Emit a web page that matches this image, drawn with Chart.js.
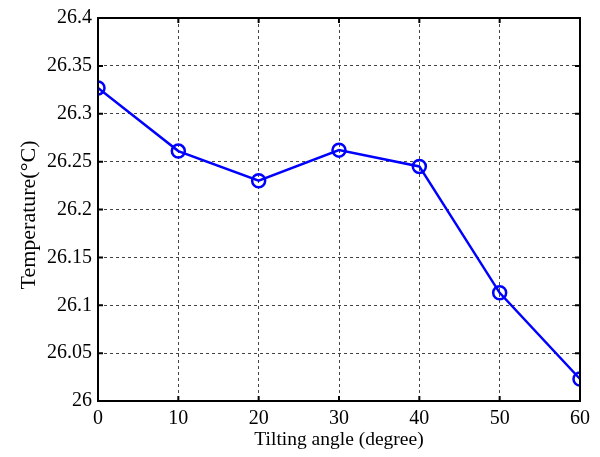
<!DOCTYPE html>
<html>
<head>
<meta charset="utf-8">
<script src="https://cdn.jsdelivr.net/npm/chart.js@4"></script>
<style>
  html, body { margin: 0; padding: 0; background: #fff; }
  #wrap { width: 600px; height: 457px; }
</style>
</head>
<body>
<div id="wrap"><canvas id="tempChart" width="600" height="457"></canvas></div>
<script>
// Tilting angle vs temperature
const angles = [0, 10, 20, 30, 40, 50, 60];
const temps = [26.327, 26.261, 26.230, 26.262, 26.245, 26.113, 26.023];
const xTicks = [0, 10, 20, 30, 40, 50, 60];
const yTicks = [26, 26.05, 26.1, 26.15, 26.2, 26.25, 26.3, 26.35, 26.4];

const fontFamily = '"Liberation Serif", "Times New Roman", serif';

// box round the plot area with inward tick marks, like the original
const boxPlugin = {
    id: 'box',
    afterDraw(chart) {
        const { ctx, chartArea: a, scales } = chart;
        ctx.save();
        ctx.strokeStyle = '#000';
        ctx.lineWidth = 2;
        ctx.setLineDash([]);
        ctx.beginPath();
        xTicks.forEach(v => {
            const px = scales.x.getPixelForValue(v);
            ctx.moveTo(px, a.bottom); ctx.lineTo(px, a.bottom - 5);
            ctx.moveTo(px, a.top); ctx.lineTo(px, a.top + 5);
        });
        yTicks.forEach(v => {
            const py = scales.y.getPixelForValue(v);
            ctx.moveTo(a.left, py); ctx.lineTo(a.left + 5, py);
            ctx.moveTo(a.right, py); ctx.lineTo(a.right - 5, py);
        });
        ctx.stroke();
        ctx.strokeRect(a.left, a.top, a.right - a.left, a.bottom - a.top);
        ctx.restore();
    }
};

new Chart(document.getElementById('tempChart').getContext('2d'), {
    type: 'line',
    data: {
        labels: angles,
        datasets: [{
            label: 'Temperature',
            data: angles.map((a, i) => ({ x: a, y: temps[i] })),
            borderColor: '#0000ff',
            borderWidth: 2.5,
            pointRadius: 6.5,
            pointBorderWidth: 2.5,
            pointBackgroundColor: 'rgba(0,0,0,0)',
            pointBorderColor: '#0000ff',
            fill: false,
            tension: 0
        }]
    },
    options: {
        responsive: false,
        animation: false,
        layout: { padding: { top: 16, right: 20, left: 0, bottom: 0 } },
        plugins: { legend: { display: false }, tooltip: { enabled: false } },
        scales: {
            x: {
                type: 'linear',
                min: 0, max: 60,
                afterBuildTicks: s => { s.ticks = xTicks.map(v => ({ value: v })); },
                afterFit: s => { s.height = 56; },
                grid: { color: '#444', lineWidth: 1, drawTicks: false },
                border: { display: false, dash: [3, 3] },
                ticks: { color: '#000', padding: 6, font: { family: fontFamily, size: 20 }, maxRotation: 0 },
                title: { display: true, text: 'Tilting angle (degree)', color: '#000',
                         padding: { top: 0, bottom: 5 },
                         font: { family: fontFamily, size: 19.5 } }
            },
            y: {
                min: 26, max: 26.4,
                afterBuildTicks: s => { s.ticks = yTicks.map(v => ({ value: v })); },
                afterFit: s => { s.width = 98; },
                grid: { color: '#444', lineWidth: 1, drawTicks: false },
                border: { display: false, dash: [3, 3] },
                ticks: { color: '#000', padding: 6, font: { family: fontFamily, size: 20 },
                         callback: v => String(+v.toFixed(2)) },
                title: { display: true, text: 'Temperature(\u00B0C)  ', color: '#000',
                         padding: { top: 16, bottom: 0 },
                         font: { family: fontFamily, size: 22 } }
            }
        }
    },
    plugins: [boxPlugin]
});
</script>
</body>
</html>
